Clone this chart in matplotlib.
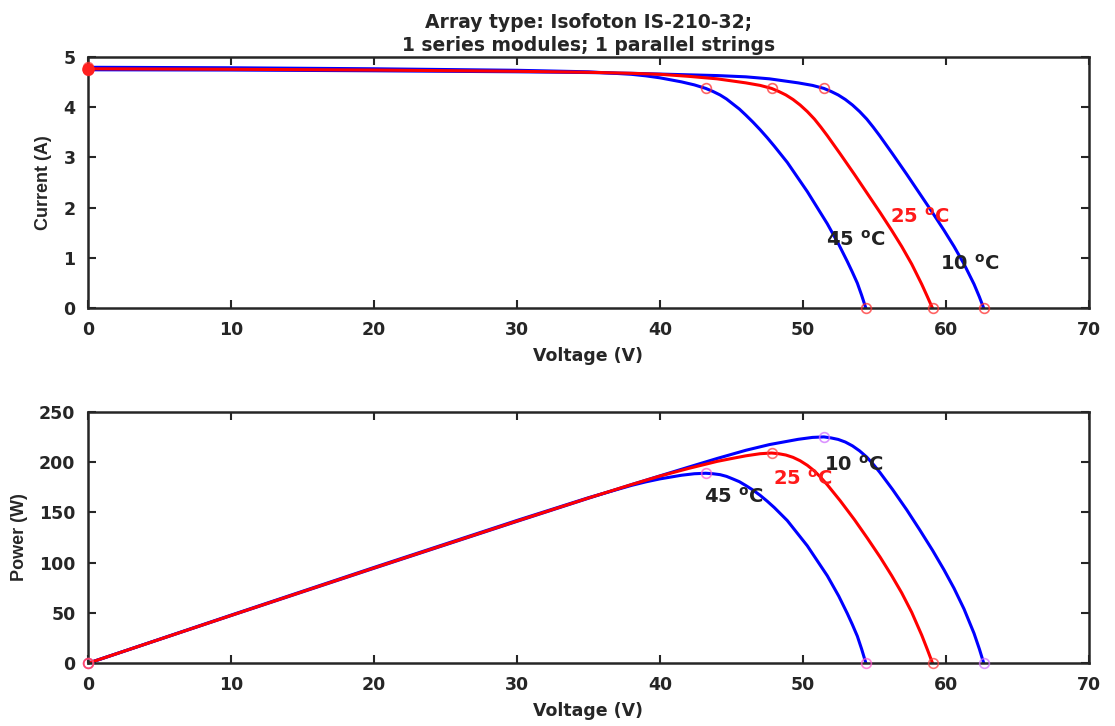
import matplotlib.pyplot as plt

plt.rcParams['font.family'] = ['DejaVu Sans']
plt.rcParams['font.weight'] = 'bold'
plt.rcParams['axes.labelweight'] = 'bold'
plt.rcParams['axes.titleweight'] = 'bold'
plt.rcParams['mathtext.fontset'] = 'custom'
plt.rcParams['mathtext.bf'] = 'DejaVu Sans:bold'
plt.rcParams['mathtext.rm'] = 'DejaVu Sans:bold'
plt.rcParams['mathtext.default'] = 'bf'

# values
v_45 = [0, 10, 20, 30, 35, 38, 39, 40, 41.5, 42.4, 43.2, 43.7, 44.2, 44.65, 45.1, 45.55, 46.0, 46.5, 47.0, 47.5, 48.0,
        48.9, 50.3, 51.7, 52.5, 53.1, 53.45, 53.8, 54.1, 54.4]
i_45 = [4.79, 4.78, 4.76, 4.73, 4.70, 4.65, 4.62, 4.58, 4.50, 4.44, 4.37, 4.31, 4.24, 4.16, 4.06, 3.96, 3.84, 3.70, 3.55, 3.39, 3.22,
        2.90, 2.32, 1.68, 1.27, 0.93, 0.72, 0.50, 0.26, 0]
p_45 = [0, 47.8, 95.2, 141.9, 164.5, 176.7, 180.2, 183.2, 186.8, 188.3, 188.8, 188.3, 187.4, 185.7, 183.1, 180.4, 176.6, 172.1, 166.9, 161.0, 154.6,
        141.8, 116.7, 86.9, 66.7, 49.4, 38.5, 26.9, 14.1, 0]

v_25 = [0, 10, 20, 30, 35, 38, 40, 42, 44, 45, 46, 47, 47.8, 48.3, 48.8, 49.3, 49.8, 50.3, 50.8, 51.25, 51.7,
        52.6, 53.6, 54.5, 55.4, 56.2, 56.9, 57.6, 58.3, 58.7, 59.06]
i_25 = [4.76, 4.75, 4.735, 4.71, 4.69, 4.67, 4.65, 4.61, 4.56, 4.52, 4.48, 4.43, 4.37, 4.31, 4.24, 4.15, 4.04, 3.91, 3.76, 3.60, 3.43,
        3.07, 2.66, 2.28, 1.90, 1.55, 1.23, 0.88, 0.48, 0.23, 0]
p_25 = [0, 47.5, 94.7, 141.3, 164.2, 177.5, 186.0, 193.6, 200.6, 203.4, 206.1, 208.2, 208.9, 208.2, 206.9, 204.6, 201.2, 196.7, 191.0, 184.5, 177.3,
        161.5, 142.6, 124.3, 105.3, 87.1, 70.0, 50.7, 28.0, 13.5, 0]

v_10 = [0, 10, 20, 30, 35, 38, 40, 42, 44, 46, 47.66, 48.66, 49.66, 50.66, 51.46, 51.96, 52.46, 52.96, 53.46, 53.96, 54.46,
        54.91, 55.36, 56.26, 57.26, 58.16, 59.06, 59.86, 60.56, 61.26, 61.96, 62.33, 62.64]
i_10 = [4.74, 4.735, 4.72, 4.70, 4.685, 4.67, 4.655, 4.64, 4.625, 4.60, 4.56, 4.52, 4.48, 4.43, 4.37, 4.31, 4.24, 4.15, 4.04, 3.91, 3.76,
        3.60, 3.43, 3.07, 2.66, 2.28, 1.90, 1.55, 1.23, 0.88, 0.48, 0.23, 0]
p_10 = [0, 47.4, 94.4, 141.0, 164.0, 177.5, 186.2, 194.9, 203.5, 211.6, 217.3, 219.9, 222.5, 224.4, 224.9, 223.9, 222.4, 219.8, 216.0, 211.0, 204.8,
        197.7, 189.9, 172.7, 152.3, 132.6, 112.2, 92.8, 74.5, 53.9, 29.7, 14.3, 0]

curve_labels = ['45 $^{o}$C', '25 $^{o}$C', '10 $^{o}$C']
iv_label_pos = [(51.6, 1.36), (56.1, 1.83), (59.6, 0.89)]
pv_label_pos = [(43.1, 165), (47.9, 183), (51.5, 197)]
label_colors = ['#222222', '#ff1a1a', '#222222']

# (voltage, current, power, colour, index of max power point, power marker colour)
curves = [
    (v_45, i_45, p_45, 'b', 10, '#ff5ad0'),
    (v_25, i_25, p_25, 'r', 12, '#ff4040'),
    (v_10, i_10, p_10, 'b', 14, '#d070ff'),
]
draw_order = [2, 0, 1]  # red on top

dark = '#262626'
fig = plt.figure(figsize=(11.15, 7.26), dpi=100)
ax1 = fig.add_axes([0.0789, 0.5753, 0.8978, 0.3466])
ax2 = fig.add_axes([0.0789, 0.0864, 0.8978, 0.3466])

for k in draw_order:
    v, i, p, col, imp, pcol = curves[k]
    ax1.plot(v, i, color=col, lw=2.2, zorder=2, solid_joinstyle='round')
    ax2.plot(v, p, color=col, lw=2.2, zorder=2, solid_joinstyle='round')
for k in draw_order:
    v, i, p, col, imp, pcol = curves[k]
    idx = [0, imp, len(v) - 1]
    ax1.plot([v[j] for j in idx], [i[j] for j in idx], 'o', mfc='none',
             mec='#ff3030', mew=1.2, ms=7, alpha=0.75, zorder=3, clip_on=False)
    ax2.plot([v[j] for j in idx], [p[j] for j in idx], 'o', mfc='none',
             mec=pcol, mew=1.2, ms=7, alpha=0.75, zorder=3, clip_on=False)
# heavier start marker on the current plot
ax1.plot([0], [4.76], 'o', color='#ff2020', ms=8, zorder=4, clip_on=False)

for lab, (x, y), c in zip(curve_labels, iv_label_pos, label_colors):
    ax1.text(x, y, lab, color=c, fontsize=14, ha='left', va='center', zorder=5)
for lab, (x, y), c in zip(curve_labels, pv_label_pos, label_colors):
    ax2.text(x, y, lab, color=c, fontsize=14, ha='left', va='center', zorder=5)

ax1.set_ylim(0, 5)
ax1.set_yticks(range(0, 6))
ax2.set_ylim(0, 250)
ax2.set_yticks(range(0, 251, 50))
for ax in (ax1, ax2):
    ax.set_xlim(0, 70)
    ax.set_xticks(range(0, 71, 10))
    ax.tick_params(direction='in', top=True, right=True, length=6, width=1.5,
                   labelsize=12.5, colors=dark, pad=9)
    for s in ax.spines.values():
        s.set_linewidth(1.8)
        s.set_color(dark)
    ax.set_xlabel('Voltage (V)', fontsize=12.5, color=dark, labelpad=6)

ax1.set_ylabel('Current (A)', fontsize=13, color=dark, labelpad=8,
               family='Liberation Sans')
ax2.set_ylabel('Power (W)', fontsize=13, color=dark, labelpad=8,
               family='Liberation Sans')
ax1.set_title('Array type: Isofoton IS-210-32;\n1 series modules; 1 parallel strings',
              fontsize=13.5, color=dark, pad=4, linespacing=1.25)

fig.savefig('out.png', dpi=100)
